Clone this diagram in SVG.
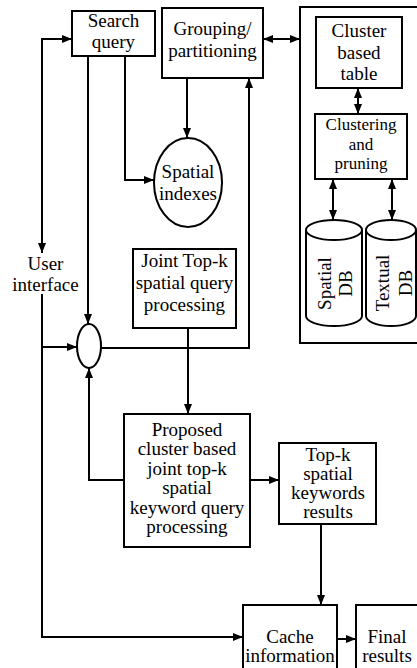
<svg xmlns="http://www.w3.org/2000/svg" width="417" height="668" viewBox="0 0 417 668">
  <style>
    .box { fill: #fff; stroke: #000; stroke-width: 2; }
    .shape { fill: #fff; stroke: #000; stroke-width: 2; }
    .edge { fill: none; stroke: #000; stroke-width: 2; }
    .arr { marker-end: url(#ah); }
    .arr2 { marker-start: url(#ah); marker-end: url(#ah); }
    text { font-family: "Liberation Serif", "Tinos", "Noto Serif", "DejaVu Serif", "FreeSerif", "Times", serif; font-size: 19px; fill: #000; text-anchor: middle; }
    .tight { font-size: 17px; }
  </style>
  <defs>
    <marker id="ah" viewBox="0 0 10 8" refX="10" refY="4" markerWidth="10" markerHeight="8" markerUnits="userSpaceOnUse" orient="auto-start-reverse">
      <path d="M0,0 L10,4 L0,8 z" fill="#000"/>
    </marker>
  </defs>

  <rect width="417" height="668" fill="#fff"/>

  <!-- storage container -->
  <g id="storage">
    <rect class="box" x="300" y="7" width="130" height="336"/>
  </g>

  <g id="search-query">
    <rect class="box" x="72" y="11" width="83" height="45"/>
    <text x="113.5" y="27">Search</text>
    <text x="113.5" y="48">query</text>
  </g>

  <g id="grouping">
    <rect class="box" x="162" y="8" width="101" height="70"/>
    <text x="212.5" y="35">Grouping/</text>
    <text x="212.5" y="57">partitioning</text>
  </g>

  <g id="cluster-table">
    <rect class="box" x="316" y="17" width="86" height="71"/>
    <text x="359" y="37">Cluster</text>
    <text x="359" y="59">based</text>
    <text x="359" y="80">table</text>
  </g>

  <g id="clustering">
    <rect class="box" x="315" y="114" width="92" height="65"/>
    <text class="tight" x="361" y="130">Clustering</text>
    <text class="tight" x="361" y="149.5">and</text>
    <text class="tight" x="361" y="169">pruning</text>
  </g>

  <g id="spatial-db">
    <path class="shape" d="M306,230 L306,316 A28,10 0 0 0 362,316 L362,230"/>
    <ellipse class="shape" cx="334" cy="230" rx="28" ry="10"/>
    <text transform="translate(331,283.5) rotate(-90)">Spatial</text>
    <text transform="translate(352,283.5) rotate(-90)">DB</text>
  </g>

  <g id="textual-db">
    <path class="shape" d="M366,230 L366,316 A25,10 0 0 0 416,316 L416,230"/>
    <ellipse class="shape" cx="391" cy="230" rx="25" ry="10"/>
    <text transform="translate(389,283) rotate(-90)">Textual</text>
    <text transform="translate(412,283) rotate(-90)">DB</text>
  </g>

  <g id="spatial-indexes">
    <ellipse class="shape" cx="188" cy="182.5" rx="34" ry="44.5"/>
    <text x="188" y="178">Spatial</text>
    <text x="188" y="200">indexes</text>
  </g>

  <g id="user-interface">
    <text x="45.5" y="270">User</text>
    <text x="45.5" y="291">interface</text>
  </g>

  <g id="joint-topk">
    <rect class="box" x="133" y="249" width="103" height="79"/>
    <text x="184.5" y="267">Joint Top-k</text>
    <text x="184.5" y="289">spatial query</text>
    <text x="184.5" y="311">processing</text>
  </g>

  <g id="merge">
    <ellipse class="shape" cx="89" cy="346" rx="12" ry="22"/>
  </g>

  <g id="proposed">
    <rect class="box" x="124" y="414" width="126" height="133"/>
    <text x="187" y="435.5">Proposed</text>
    <text x="187" y="455">cluster based</text>
    <text x="187" y="474.5">joint top-k</text>
    <text x="187" y="494">spatial</text>
    <text x="187" y="513.5">keyword query</text>
    <text x="187" y="533">processing</text>
  </g>

  <g id="topk-results">
    <rect class="box" x="279" y="443" width="97" height="81"/>
    <text x="328" y="461">Top-k</text>
    <text x="328" y="480">spatial</text>
    <text x="328" y="499">keywords</text>
    <text x="328" y="518">results</text>
  </g>

  <g id="cache">
    <rect class="box" x="243" y="605" width="94" height="75"/>
    <text x="290" y="643">Cache</text>
    <text x="290" y="662">information</text>
  </g>

  <g id="final-results">
    <rect class="box" x="356" y="605" width="70" height="75"/>
    <text x="387" y="643">Final</text>
    <text x="387" y="662">results</text>
  </g>

  <g id="connectors">
    <path class="edge arr2" d="M42,253 L42,39 L72,39"/>
    <path class="edge arr" d="M42,294 L42,637 L243,637"/>
    <path class="edge arr" d="M42,347 L77,347"/>
    <path class="edge arr" d="M88,56 L88,324"/>
    <path class="edge arr" d="M125,56 L125,180 L154,180"/>
    <path class="edge arr" d="M187,78 L187,138"/>
    <path class="edge arr2" d="M263,39 L300,39"/>
    <path class="edge arr2" d="M358,88 L358,114"/>
    <path class="edge arr2" d="M333,179 L333,220"/>
    <path class="edge arr2" d="M392,179 L392,220"/>
    <path class="edge arr" d="M101,348 L249,348 L249,78"/>
    <path class="edge arr" d="M188,328 L188,414"/>
    <path class="edge arr" d="M124,480 L89,480 L89,368"/>
    <path class="edge arr" d="M250,480 L279,480"/>
    <path class="edge arr" d="M321,524 L321,605"/>
    <path class="edge arr" d="M337,639 L356,639"/>
  </g>
</svg>
